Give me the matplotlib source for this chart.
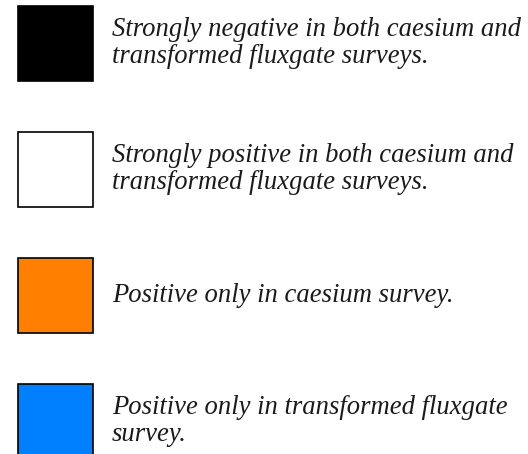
import numpy as np
import matplotlib.pyplot as plt

# Legend entries (top to bottom)
labels = [
    'Strongly negative in both caesium and\ntransformed fluxgate surveys.',
    'Strongly positive in both caesium and\ntransformed fluxgate surveys.',
    'Positive only in caesium survey.',
    'Positive only in transformed fluxgate\nsurvey.',
]
colors = ['#000000', '#FFFFFF', '#FF7F00', '#0080FF']

W, H = 528, 454
fig = plt.figure(figsize=(W / 100, H / 100), dpi=100)
ax = fig.add_axes([0, 0, 1, 1])
ax.set_xlim(0, W)
ax.set_ylim(H, 0)
ax.axis('off')

row = 126      # vertical pitch between swatches, px
box = 75       # swatch size, px
top0 = 6
tops = top0 + row * np.arange(len(labels))

ax.bar(np.full(len(labels), 18 + box / 2), box, width=box, bottom=tops,
       color=colors, edgecolor='black', linewidth=1.2)

for t, lab in zip(tops, labels):
    ax.text(112, t + box / 2 - 0.5, lab, ha='left', va='center',
            family='Liberation Serif', style='italic', fontsize=19.2,
            color='#1a1a1a', linespacing=1.14)

fig.savefig('out.png', dpi=100)
